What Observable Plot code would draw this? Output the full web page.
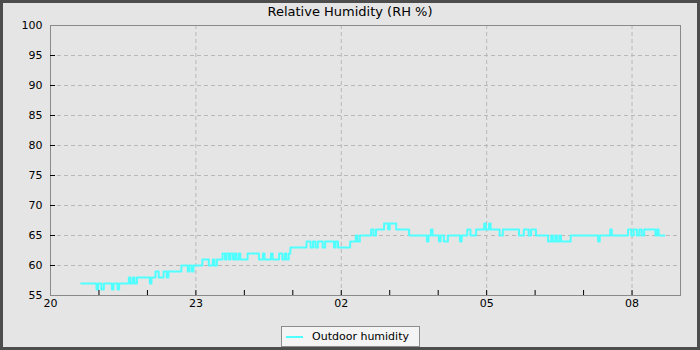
<!DOCTYPE html>
<html><head><meta charset="utf-8">
<script src="https://cdn.jsdelivr.net/npm/d3@7"></script>
<script src="https://cdn.jsdelivr.net/npm/@observablehq/plot@0.6"></script>
<style>
html,body{margin:0;padding:0;background:#e5e5e5;}
#wrap{position:relative;width:700px;height:350px;background:#e5e5e5;box-shadow:inset 0 0 0 3px #4d4d4d;font-family:"DejaVu Sans",sans-serif;overflow:hidden;}
#title{position:absolute;left:0;top:4px;width:700px;text-align:center;font-size:13px;color:#000;line-height:16px;}
#chart{position:absolute;left:0;top:0;}
#legend{position:absolute;left:281px;top:326px;width:137px;height:19px;border:1px solid #8c8c8c;background:#f4f4f4;font-size:11px;display:flex;align-items:center;color:#000;}
#legend .sw{display:inline-block;width:17px;height:2px;background:#50ffff;margin-left:4px;margin-right:9px;}
</style>
</head><body>
<div id="wrap">
  <div id="chart"></div>
  <div id="title">Relative Humidity (RH %)</div>
  <div id="legend"><span class="sw"></span><span id="legtext"></span></div>
</div>
<script>
const seriesName = "Outdoor humidity";
const times = ["20:38","20:57","20:59","21:03","21:06","21:16","21:18","21:23","21:25","21:37","21:39","21:42","21:44","21:47","22:03","22:05","22:10","22:14","22:20","22:24","22:26","22:42","22:50","22:52","22:55","22:57","23:08","23:16","23:21","23:23","23:26","23:33","23:36","23:38","23:41","23:43","23:46","23:48","23:50","23:53","23:55","00:04","00:18","00:23","00:25","00:33","00:35","00:43","00:47","00:50","00:52","00:55","00:57","01:17","01:22","01:25","01:28","01:31","01:37","01:40","01:51","01:53","01:56","02:11","02:18","02:20","02:23","02:37","02:40","02:43","02:53","02:58","03:00","03:08","03:24","03:46","03:48","03:51","03:53","04:01","04:03","04:07","04:12","04:27","04:29","04:36","04:40","04:47","04:57","04:59","05:03","05:05","05:16","05:20","05:40","05:46","05:52","05:55","06:01","06:16","06:20","06:22","06:25","06:27","06:30","06:32","06:44","07:18","07:20","07:33","07:35","07:55","07:59","08:02","08:06","08:09","08:12","08:15","08:29","08:31","08:33","08:40"];
const rh = [57,56,57,56,57,56,57,56,57,58,57,58,57,58,57,58,59,58,59,58,59,60,59,60,59,60,61,60,61,60,61,62,61,62,61,62,61,62,61,62,61,62,61,62,61,62,61,62,61,62,61,62,63,64,63,64,63,64,63,64,63,64,63,64,65,64,65,66,65,66,67,66,67,66,65,64,65,66,65,64,65,64,65,64,65,66,65,66,67,66,67,66,65,66,65,66,65,66,65,64,65,64,65,64,65,64,65,64,65,66,65,66,65,66,65,66,65,66,65,66,65,65];
const yTicks = [55,60,65,70,75,80,85,90,95,100];
const xLabelTimes = ["20:00","23:00","02:00","05:00","08:00"];
const tickHours = ["21:00","22:00","23:00","00:00","01:00","02:00","03:00","04:00","05:00","06:00","07:00","08:00"];
const xStart = "20:00", xEnd = "09:00";

function toDate(hhmm){
  const [h,m] = hhmm.split(":").map(Number);
  return new Date(Date.UTC(2024,0,h>=12?1:2,h,m));
}
const data = times.map((t,i)=>({t:toDate(t), v:rh[i]}));
const labelDates = xLabelTimes.map(toDate);
const hourDates = tickHours.map(toDate);
document.getElementById("legtext").textContent = seriesName;

const gridStyle = {stroke:"#b8b8b8", strokeOpacity:1, strokeDasharray:"4,3"};
const chart = Plot.plot({
  width:700, height:320,
  marginLeft:50, marginRight:20, marginTop:25, marginBottom:25,
  style:{background:"transparent", fontFamily:"DejaVu Sans", fontSize:"11px", color:"#000"},
  x:{type:"utc", domain:[toDate(xStart), toDate(xEnd)], label:null},
  y:{domain:[55,100], label:null},
  marks:[
    Plot.gridY(yTicks, gridStyle),
    Plot.gridX(labelDates, gridStyle),
    Plot.frame({stroke:"#8a8a8a"}),
    Plot.line(data, {x:"t", y:"v", curve:"step-after", stroke:"#50ffff", strokeWidth:2}),
    Plot.ruleY(yTicks.slice(1,-1), {stroke:"#000", insetRight:625}),
    Plot.ruleX(hourDates, {stroke:"#000", insetTop:265}),
    Plot.axisY(yTicks, {tickSize:0, tickPadding:8, fontSize:11, label:null}),
    Plot.axisX(labelDates, {tickSize:0, tickPadding:4, fontSize:11, label:null, tickFormat:d3.utcFormat("%H")})
  ]
});
document.getElementById("chart").appendChild(chart);
</script>
</body></html>
